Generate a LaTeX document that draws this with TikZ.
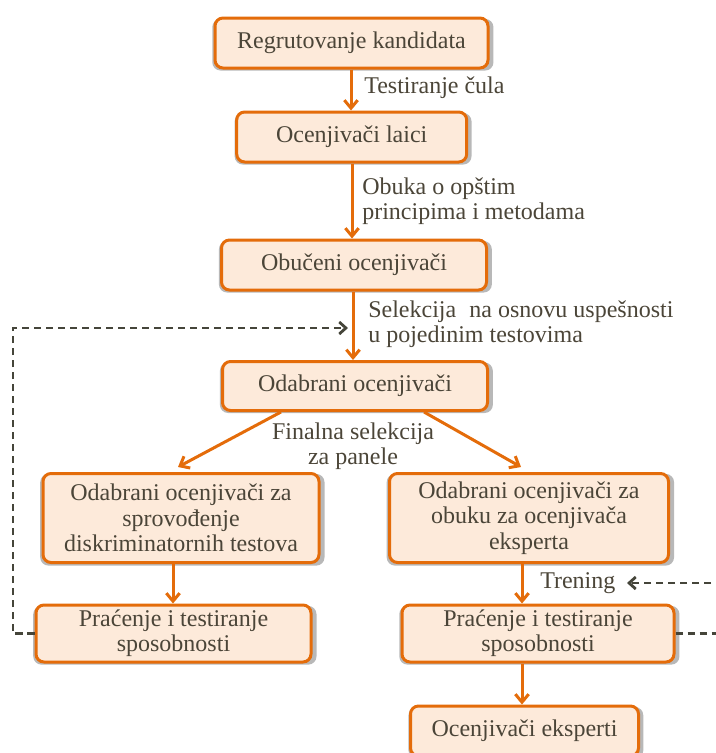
\documentclass[tikz,border=0pt]{standalone}
\usepackage{fontspec}
\setmainfont{Liberation Serif}
\usetikzlibrary{arrows.meta,shadows,calc}
\definecolor{boxorange}{HTML}{E46C0A}
\definecolor{boxfill}{HTML}{FDEADA}
\definecolor{txt}{HTML}{4B4538}
\definecolor{dashc}{HTML}{45453A}
\newcommand{\boxfont}{\fontsize{18}{19}\selectfont}
\begin{document}
\begin{tikzpicture}[x=0.75pt,y=-0.75pt,
  box/.style={draw=boxorange, line width=2.25pt, fill=boxfill, rounded corners=6pt,
    align=center, text=txt, font=\boxfont, inner sep=2pt,
    general shadow={shadow xshift=1pt,shadow yshift=-1.3pt,fill=black,opacity=0.28,shadow scale=1.03}},
  lbl/.style={text=txt, font=\boxfont, inner sep=0pt, align=left},
  oarrow/.style={draw=boxorange, line width=2.25pt, -{Straight Barb[length=6pt,width=10pt]}},
  darrow/.style={draw=dashc, line width=2.1pt, dash pattern=on 5.5pt off 3.5pt, -{Straight Barb[length=5pt,width=9pt]}}]
\useasboundingbox (0,0) rectangle (716,753);

\node[box, minimum width=204.75pt, minimum height=37.5pt] (n1) at (351.5,43) {Regrutovanje kandidata};
\node[box, minimum width=172.5pt, minimum height=37.5pt] (n2) at (351.7,137) {Ocenjivači laici};
\node[box, minimum width=198.75pt, minimum height=37.5pt] (n3) at (354,265) {Obučeni ocenjivači};
\node[box, minimum width=198.75pt, minimum height=36.75pt] (n4) at (355,386) {Odabrani ocenjivači};
\node[box, minimum width=207pt, minimum height=66.75pt] (n5) at (181,518) {Odabrani ocenjivači za\\sprovođenje\\diskriminatornih testova};
\node[box, minimum width=209.25pt, minimum height=66.75pt] (n6) at (529,518) {Odabrani ocenjivači za\\obuku za ocenjivača\\eksperta};
\node[box, minimum width=206.25pt, minimum height=42.75pt] (n7) at (173.5,633.5) {Praćenje i testiranje\\sposobnosti};
\node[box, minimum width=204pt, minimum height=42.75pt] (n8) at (538,633.5) {Praćenje i testiranje\\sposobnosti};
\node[box, minimum width=171pt, minimum height=37.5pt] (n9) at (524.5,731) {Ocenjivači eksperti};

% labels
\node[lbl, anchor=west] (l1) at (364,88) {Testiranje čula};
\node[lbl, anchor=west] (l2) at (362,201) {Obuka o opštim\\principima i metodama};
\node[lbl, anchor=west] (l3) at (368,324) {Selekcija\hspace{0.3em} na osnovu uspešnosti\\u pojedinim testovima};
\node[lbl, align=center] (l4) at (353,446) {Finalna selekcija\\za panele};
\node[lbl, anchor=west] (l5) at (540,583) {Trening};

% main arrows
\draw[oarrow] (n1.south -| 351,0) -- (n2.north -| 351,0);
\draw[oarrow] (n2.south -| 352,0) -- (n3.north -| 352,0);
\draw[oarrow] (n3.south -| 353,0) -- (n4.north -| 353,0);
\draw[oarrow] ($(n4.south)+(-74,0)$) -- ($(n5.north)+(-3,-5)$);
\draw[oarrow] ($(n4.south)+(69,0)$) -- ($(n6.north)+(-8,-5)$);
\draw[oarrow] (n5.south -| 173,0) -- (n7.north -| 173,0);
\draw[oarrow] (n6.south -| 522,0) -- (n8.north -| 522,0);
\draw[oarrow] (n8.south -| 522,0) -- (n9.north -| 522,0);

% feedback loops
\coordinate (fbl) at (348,328);
\draw[darrow] (n7.west) -- (13,633.5) |- (fbl);
\coordinate (fbr) at (627,583);
\draw[darrow] (n8.east) -- (740,633.5) |- (fbr);
\end{tikzpicture}
\end{document}
